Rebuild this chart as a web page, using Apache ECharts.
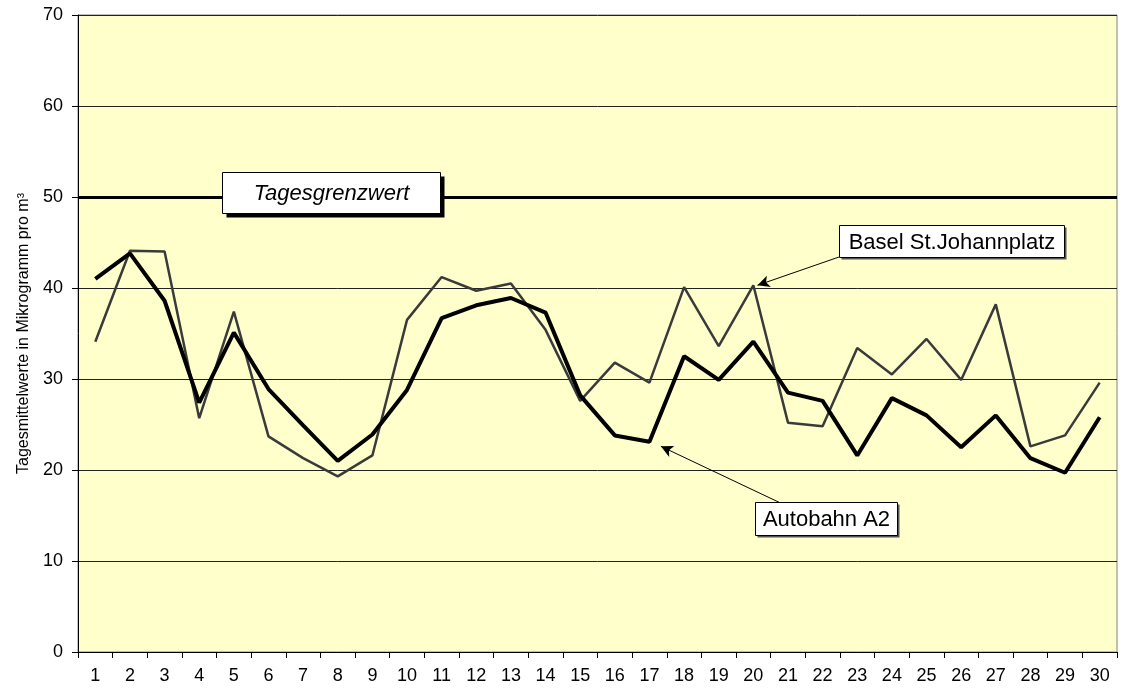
<!DOCTYPE html>
<html><head><meta charset="utf-8">
<script src="https://cdn.jsdelivr.net/npm/echarts@6/dist/echarts.min.js"></script>
<style>html,body{margin:0;padding:0;background:#fff}#c{width:1122px;height:691px}</style>
</head><body><div id="c"></div>
<script>
const days = ['1','2','3','4','5','6','7','8','9','10','11','12','13','14','15','16','17','18','19','20','21','22','23','24','25','26','27','28','29','30'];
const autobahnA2 = [41.0,43.8,38.6,27.4,35.1,28.9,24.9,21.0,23.9,28.8,36.7,38.1,38.9,37.3,28.2,23.8,23.1,32.5,29.9,34.1,28.5,27.6,21.6,27.9,26.0,22.5,26.0,21.3,19.7,25.8];
const baselStJohann = [34.1,44.1,44.0,25.7,37.4,23.7,21.3,19.3,21.6,36.5,41.2,39.7,40.5,35.4,27.6,31.8,29.6,40.1,33.6,40.3,25.2,24.8,33.4,30.5,34.4,29.9,38.2,22.6,23.8,29.6];
const yTicks = [0,10,20,30,40,50,60,70];
const limitValue = 50;
const limitLabel = 'Tagesgrenzwert';
const labelA2 = 'Autobahn A2';
const labelBasel = 'Basel St.Johannplatz';
const yName = 'Tagesmittelwerte in Mikrogramm pro m³';
// annotation arrows (x as day position, y as value)
const arrowBasel = [[22.47, 43.4], [20.12, 40.3]];
const arrowA2 = [[20.77, 16.4], [17.33, 22.6]];

const chart = echarts.init(document.getElementById('c'), null, {renderer:'canvas'});
const font = 'Liberation Sans, Arial, sans-serif';
function box(left, top, w, h, text, fontStr, shadowColor, sh) {
  return {type:'group', left:left, top:top, children:[
    {type:'rect', z:20, shape:{x:sh,y:sh,width:w,height:h}, style:{fill:shadowColor}},
    {type:'rect', z:21, shape:{x:0,y:0,width:w,height:h}, style:{fill:'#fff', stroke:'#000', lineWidth:1}},
    {type:'text', z:22, x:w/2, y:h/2+1, style:{text:text, font:fontStr, fill:'#000', align:'center', verticalAlign:'middle'}}
  ]};
}
chart.setOption({
  animation:false,
  backgroundColor:'#ffffff',
  textStyle:{fontFamily:font},
  grid:{left:78, top:15, right:5, bottom:39, show:true, backgroundColor:'#FFFFCC', borderColor:'#808080', borderWidth:1},
  xAxis:[{
    type:'category', data:days, boundaryGap:true,
    axisLine:{lineStyle:{color:'#000', width:1}},
    axisTick:{show:true, length:6, lineStyle:{color:'#000'}, alignWithLabel:false},
    axisLabel:{color:'#000', fontSize:18, margin:15, fontFamily:font},
    splitLine:{show:false}
  },{
    type:'value', min:0.5, max:30.5, show:false
  }],
  yAxis:{
    type:'value', min:yTicks[0], max:yTicks[yTicks.length-1], interval:10,
    name:yName, nameLocation:'middle', nameGap:46, nameRotate:90,
    nameTextStyle:{color:'#000', fontSize:16, fontFamily:font},
    axisLine:{show:true, lineStyle:{color:'#000', width:1}},
    axisTick:{show:true, length:6, lineStyle:{color:'#000'}},
    axisLabel:{color:'#000', fontSize:18, margin:15, fontFamily:font},
    splitLine:{show:true, lineStyle:{color:'#222', width:1}}
  },
  series:[
    {name:labelBasel, type:'line', data:baselStJohann, symbol:'none', z:3,
     lineStyle:{color:'#3a3a3a', width:2.5}},
    {name:labelA2, type:'line', data:autobahnA2, symbol:'none', z:4,
     lineStyle:{color:'#000', width:4},
     markLine:{symbol:'none', silent:true, label:{show:false},
       lineStyle:{color:'#000', width:3, type:'solid'},
       data:[{yAxis:limitValue}]}},
    {name:'arrows', type:'line', xAxisIndex:1, data:[], symbol:'none', z:5,
     markLine:{silent:true, symbol:['none','arrow'], symbolSize:[9,12], label:{show:false},
       lineStyle:{color:'#000', width:1, type:'solid'},
       data:[
         [{coord:arrowBasel[0]},{coord:arrowBasel[1]}],
         [{coord:arrowA2[0]},{coord:arrowA2[1]}]
       ]}}
  ],
  graphic:[
    box(222, 172, 218, 41, limitLabel, 'italic 22px '+font, '#000', 4),
    box(839, 225, 225, 32, labelBasel, '22px '+font, '#555', 2),
    box(755, 502, 142, 33, labelA2, '22px '+font, '#555', 2)
  ]
});
</script></body></html>
